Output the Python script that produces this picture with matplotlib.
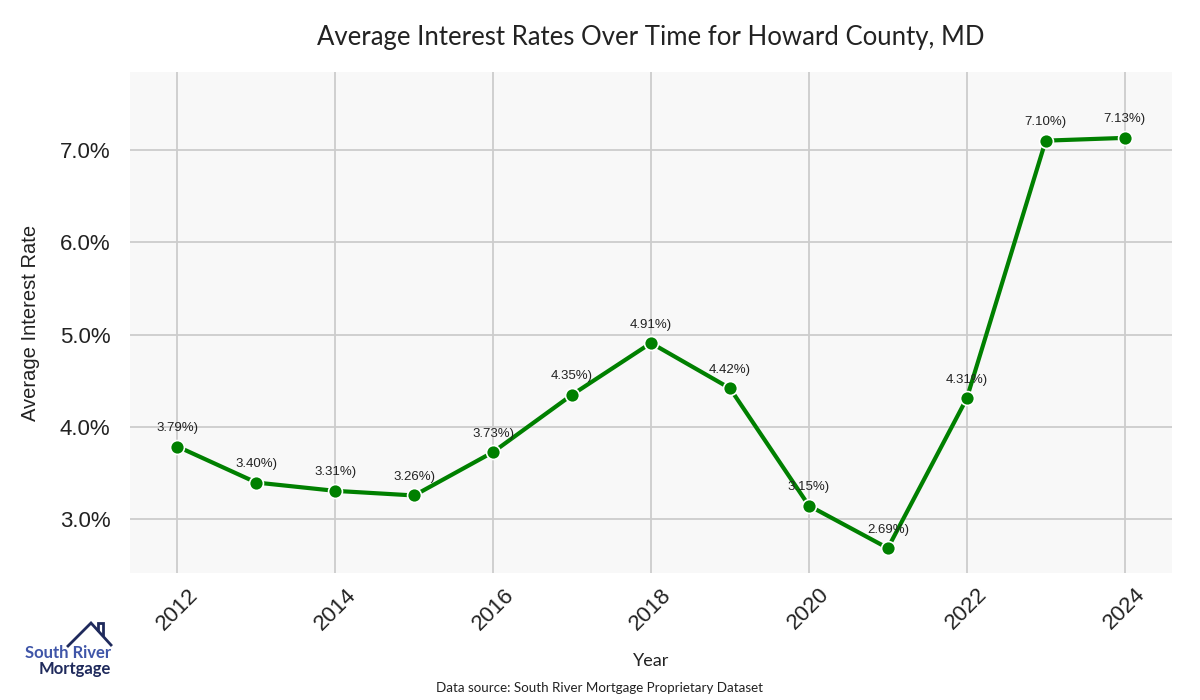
import numpy as np
import matplotlib as mpl
import matplotlib.pyplot as plt
from matplotlib.ticker import PercentFormatter
from matplotlib.lines import Line2D

# ---------------- data ----------------
years = [2012, 2013, 2014, 2015, 2016, 2017, 2018, 2019, 2020, 2021, 2022, 2023, 2024]
rates = [3.79, 3.40, 3.31, 3.26, 3.73, 4.35, 4.91, 4.42, 3.15, 2.69, 4.31, 7.10, 7.13]
xticks = [2012, 2014, 2016, 2018, 2020, 2022, 2024]

TITLE = "Average Interest Rates Over Time for Howard County, MD"
SOURCE = "Data source: South River Mortgage Proprietary Dataset"

mpl.rcParams["font.family"] = ["Liberation Sans", "DejaVu Sans"]

W, H = 1200, 700
fig = plt.figure(figsize=(12, 7), dpi=100)
ax = fig.add_axes([130 / W, 1 - 573 / H, (1172 - 130) / W, (573 - 72) / H])
ax.set_facecolor("#f8f8f8")
for s in ax.spines.values():
    s.set_visible(False)
ax.grid(True, color="#cccccc", lw=1.3)
ax.set_axisbelow(True)

ax.plot(years, rates, color="green", lw=3, marker="o", ms=10,
        mfc="green", mec="white", mew=1.2, zorder=3)
for x, y in zip(years, rates):
    ax.annotate(f"{y:.2f}%)", (x, y), xytext=(0, 9), textcoords="offset points",
                ha="center", va="bottom", fontsize=9.5, color="#222222")

ax.set_xlim(years[0] - 0.6, years[-1] + 0.6)
ax.set_ylim(min(rates) * 0.9, max(rates) * 1.1)
ax.set_yticks([3, 4, 5, 6, 7])
ax.yaxis.set_major_formatter(PercentFormatter(decimals=1))
ax.set_xticks(xticks)
ax.tick_params(axis="both", length=0, labelsize=16, colors="#222222")
ax.tick_params(axis="y", pad=14)
ax.tick_params(axis="x", pad=8)
plt.setp(ax.get_xticklabels(), rotation=45)

ax.set_xlabel("Year", fontsize=13, family=["Lato", "DejaVu Sans"], color="#222222", labelpad=14)
ax.set_ylabel("Average Interest Rate", fontsize=14.5, color="#222222", labelpad=14)
fig.text(651 / W, 1 - 38 / H, TITLE, ha="center", va="center", fontsize=18.5,
         family=["Lato", "DejaVu Sans"], color="#222222")
fig.text(0.5, 1 - 688 / H, SOURCE, ha="center", va="center", fontsize=9.6,
         family=["Lato", "DejaVu Sans"], color="#222222")

# ---- logo ----
navy = "#1f2a5c"
roof = [(68, 646), (91, 623), (111, 645)]
chimney = [(98, 630), (98, 623), (103, 623), (103, 635)]
for pts in (roof, chimney):
    xs = [p[0] / W for p in pts]
    ys = [1 - p[1] / H for p in pts]
    fig.add_artist(Line2D(xs, ys, color=navy, lw=2, transform=fig.transFigure,
                          solid_joinstyle="miter"))
fig.text(111 / W, 1 - 653 / H, "South River", ha="right", va="center", fontsize=12,
         weight="bold", color="#3f55a8", family=["Lato", "DejaVu Sans"])
fig.text(111 / W, 1 - 669 / H, "Mortgage", ha="right", va="center", fontsize=12,
         weight="bold", color=navy, family=["Lato", "DejaVu Sans"])

fig.savefig("out.png", dpi=100)
